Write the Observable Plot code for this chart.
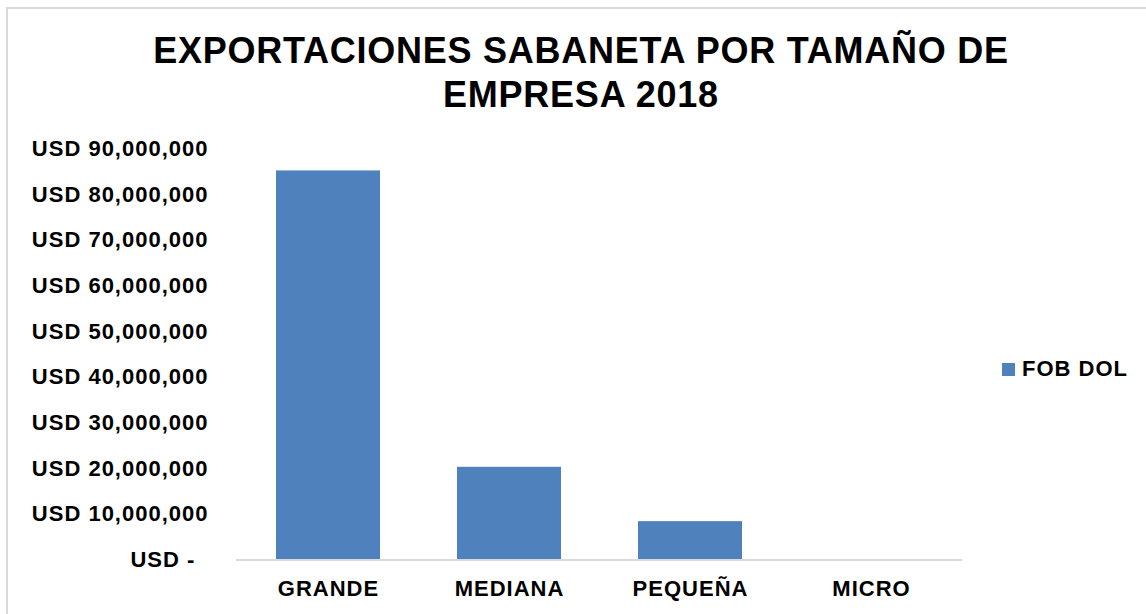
<!DOCTYPE html>
<html>
<head>
<meta charset="utf-8">
<script src="https://cdn.jsdelivr.net/npm/d3@7"></script>
<script src="https://cdn.jsdelivr.net/npm/@observablehq/plot@0.6"></script>
<style>
  html, body { margin: 0; padding: 0; background: #fff; }
  body { width: 1146px; height: 614px; position: relative; overflow: hidden;
         font-family: "Liberation Sans", Arial, sans-serif; }
  #frame { position: absolute; left: 6px; top: 7px; width: 1160px; height: 630px;
           border: 2px solid #d9d9d9; box-sizing: border-box; }
  #title { position: absolute; left: 0; top: 29px; width: 1162px; text-align: center;
           font-size: 36px; font-weight: bold; line-height: 44px; color: #000; letter-spacing: 0.75px; }
  #chart { position: absolute; left: 0; top: 130px; }
  #legend { position: absolute; left: 1002px; top: 358px; display: flex; align-items: center;
            font-size: 22px; line-height: 22px; font-weight: bold; color: #000; letter-spacing: 1px; }
  #legend .sw { width: 13px; height: 13px; background: #4f81bd; margin-right: 7px; }
  #chart svg text { letter-spacing: 1px; }
</style>
</head>
<body>
<div id="frame"></div>
<div id="title">EXPORTACIONES SABANETA POR TAMAÑO DE<br>EMPRESA 2018</div>
<div id="chart"></div>
<div id="legend"><div class="sw"></div><span>FOB DOL</span></div>
<script>
const categories = ["GRANDE", "MEDIANA", "PEQUEÑA", "MICRO"];
const values = [85200000, 20300000, 8400000, 60000];
const yTicks = [0, 10000000, 20000000, 30000000, 40000000, 50000000, 60000000, 70000000, 80000000, 90000000];
const seriesName = "FOB DOL";

const data = categories.map((c, i) => ({ category: c, value: values[i], series: seriesName }));
const fmt = d3.format(",");

const chart = Plot.plot({
  width: 1146,
  height: 484,
  marginTop: 18.5,
  marginBottom: 54.5,
  marginLeft: 236,
  marginRight: 184,
  style: { fontFamily: "'Liberation Sans', Arial, sans-serif", fontWeight: "bold", color: "#000", background: "transparent" },
  x: { domain: categories, paddingInner: 0.427, paddingOuter: 0.2135, label: null },
  y: { domain: [0, 90000000], label: null },
  marks: [
    Plot.barY(data, { x: "category", y: "value", fill: "#4f81bd" }),
    Plot.ruleY([0], { stroke: "#d9d9d9", strokeWidth: 2 }),
    Plot.axisY({ ticks: yTicks, tickSize: 0, tickPadding: 28, fontSize: 22, fontWeight: "bold",
                 tickFormat: d => d === 0 ? "USD -\u2007" : "USD " + fmt(d), label: null }),
    Plot.axisX({ tickSize: 0, tickPadding: 20, fontSize: 22, fontWeight: "bold", label: null })
  ]
});
document.getElementById("chart").appendChild(chart);
</script>
</body>
</html>
